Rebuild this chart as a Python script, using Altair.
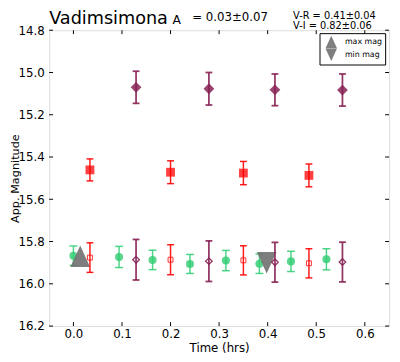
import altair as alt
import pandas as pd

W, H = 347, 302
FONT = "DejaVu Sans"

# ---- data ----
v_t = [0.000, 0.094, 0.163, 0.240, 0.314, 0.383, 0.448, 0.521]
v_m = [15.867, 15.873, 15.887, 15.906, 15.890, 15.905, 15.894, 15.884]
v_e = [0.046, 0.050, 0.046, 0.045, 0.048, 0.046, 0.048, 0.050]

rl_t = [0.034, 0.200, 0.350, 0.485]
rl_m = [15.876, 15.886, 15.889, 15.903]
rl_e = [0.070, 0.071, 0.069, 0.069]

il_t = [0.129, 0.279, 0.415, 0.554]
il_m = [15.886, 15.893, 15.898, 15.897]
il_e = [0.096, 0.096, 0.094, 0.094]

r_t = [0.034, 0.200, 0.350, 0.485]
r_m = [15.461, 15.472, 15.476, 15.487]
r_e = [0.052, 0.054, 0.055, 0.054]

i_t = [0.129, 0.279, 0.415, 0.554]
i_m = [15.070, 15.077, 15.082, 15.083]
i_e = [0.076, 0.077, 0.075, 0.076]

ext_kind = ["max mag", "min mag"]
ext_t = [0.014, 0.398]
ext_m = [15.870, 15.900]

x_ticks = [0.0, 0.1, 0.2, 0.3, 0.4, 0.5, 0.6]
y_ticks = [14.8, 15.0, 15.2, 15.4, 15.6, 15.8, 16.0, 16.2]

title_main = "Vadimsimona"
title_sup = "A"
title_val = "= 0.03\u00b10.07"
color_lines = ["V-R = 0.41\u00b10.04", "V-I  = 0.82\u00b10.06"]

GREEN = "#2ecc71"
RED = "#ff0000"
PURPLE = "#882255"
GRAY = "#707070"

xs = alt.Scale(domain=[-0.05, 0.65], nice=False, zero=False)
ys = alt.Scale(domain=[14.8, 16.2], reverse=True, nice=False, zero=False)

xaxis = alt.Axis(values=x_ticks, format=".1f", ticks=False, tickSize=0, domain=False,
                 grid=False, labelFontSize=12, labelFont=FONT, labelColor="black",
                 labelPadding=3, labelOverlap=False, labelFlush=False,
                 title="Time (hrs)", titleFont=FONT, titleFontSize=12,
                 titleFontWeight="normal", titleColor="black", titlePadding=3)
yaxis = alt.Axis(values=y_ticks, format=".1f", ticks=False, tickSize=0, domain=False,
                 grid=False, labelFontSize=12, labelFont=FONT, labelColor="black",
                 labelPadding=5, labelOverlap=False,
                 title="App. Magnitude", titleFont=FONT, titleFontSize=11.5,
                 titleFontWeight="normal", titleColor="black", titlePadding=-2.5)


def X(field):
    return alt.X(field, type="quantitative", scale=xs, axis=xaxis)


def Y(field):
    return alt.Y(field, type="quantitative", scale=ys, axis=yaxis)


def frame(t, m, e):
    return pd.DataFrame({"t": t, "m": m,
                         "lo": [a - b for a, b in zip(m, e)],
                         "hi": [a + b for a, b in zip(m, e)]})


def errbars(df, color, sw, cap, op):
    base = alt.Chart(df)
    bar = base.mark_rule(color=color, strokeWidth=sw, opacity=op).encode(
        x=X("t"), y=Y("lo"), y2="hi")
    c1 = base.mark_tick(orient="horizontal", color=color, size=cap, thickness=sw,
                        opacity=op).encode(x=X("t"), y=Y("lo"))
    c2 = base.mark_tick(orient="horizontal", color=color, size=cap, thickness=sw,
                        opacity=op).encode(x=X("t"), y=Y("hi"))
    return [bar, c1, c2]


layers = []

# green (V)
dv = frame(v_t, v_m, v_e)
layers += errbars(dv, GREEN, 1.5, 8, 0.85)
layers.append(alt.Chart(dv).mark_circle(size=68, color=GREEN, opacity=0.8)
              .encode(x=X("t"), y=Y("m")))

# extremes (triangles) with legend
de = pd.DataFrame({"kind": ext_kind, "t": ext_t, "m": ext_m})
layers.append(alt.Chart(de).mark_point(filled=True, size=400, color=GRAY, opacity=0.9,
                                       strokeWidth=0)
              .encode(x=X("t"), y=Y("m"),
                      shape=alt.Shape("kind:N",
                                      scale=alt.Scale(domain=ext_kind,
                                                      range=["M0,-1.1L-1,1.1L1,1.1Z",
                                                             "M0,1.1L-1,-1.1L1,-1.1Z"]),
                                      legend=alt.Legend(title=None, orient="none",
                                                        legendX=276, legendY=3,
                                                        strokeColor="black",
                                                        fillColor="white",
                                                        padding=3, symbolSize=137,
                                                        symbolFillColor=GRAY,
                                                        symbolStrokeWidth=0,
                                                        symbolOpacity=0.9,
                                                        labelFontSize=8, labelFont=FONT,
                                                        labelColor="black",
                                                        rowPadding=-1, symbolOffset=3,
                                                        labelOffset=8))))

# red, lower (open squares)
drl = frame(rl_t, rl_m, rl_e)
layers += errbars(drl, RED, 1.5, 7, 0.9)
layers.append(alt.Chart(drl).mark_point(shape="square", filled=False, size=25,
                                        color=RED, strokeWidth=1, opacity=0.8)
              .encode(x=X("t"), y=Y("m")))

# purple, lower (open diamonds)
dil = frame(il_t, il_m, il_e)
layers += errbars(dil, PURPLE, 1.8, 7, 0.9)
layers.append(alt.Chart(dil).mark_point(shape="diamond", filled=False, size=45,
                                        color=PURPLE, strokeWidth=1.3, opacity=0.9)
              .encode(x=X("t"), y=Y("m")))

# red, upper (filled squares)
dr = frame(r_t, r_m, r_e)
layers += errbars(dr, RED, 1.5, 7, 0.9)
layers.append(alt.Chart(dr).mark_point(shape="square", filled=True, size=81,
                                       color=RED, opacity=0.75, strokeWidth=0)
              .encode(x=X("t"), y=Y("m")))

# purple, upper (filled diamonds)
di = frame(i_t, i_m, i_e)
layers += errbars(di, PURPLE, 1.8, 7, 0.9)
layers.append(alt.Chart(di).mark_point(shape="diamond", filled=True, size=121,
                                       color=PURPLE, opacity=0.85, strokeWidth=0)
              .encode(x=X("t"), y=Y("m")))

# inward ticks (matplotlib style) on all four sides
dxt = pd.DataFrame({"v": x_ticks})
dyt = pd.DataFrame({"v": y_ticks})
layers.append(alt.Chart(dxt).mark_rule(color="black", strokeWidth=1)
              .encode(x=X("v"), y=alt.value(H), y2=alt.value(H - 4)))
layers.append(alt.Chart(dxt).mark_rule(color="black", strokeWidth=1)
              .encode(x=X("v"), y=alt.value(0), y2=alt.value(4)))
layers.append(alt.Chart(dyt).mark_rule(color="black", strokeWidth=1)
              .encode(y=Y("v"), x=alt.value(0), x2=alt.value(4)))
layers.append(alt.Chart(dyt).mark_rule(color="black", strokeWidth=1)
              .encode(y=Y("v"), x=alt.value(W), x2=alt.value(W - 4)))


# title texts
def label(txt, x, y, size, lh=None):
    kw = dict(align="left", baseline="alphabetic", font=FONT, fontSize=size,
              color="black")
    if lh is not None:
        kw.update(lineBreak="\n", lineHeight=lh)
    return alt.Chart(pd.DataFrame({"s": [txt]})).mark_text(**kw).encode(
        text="s:N", x=alt.value(x), y=alt.value(y))


layers.append(label(title_main, 0, -6, 18))
layers.append(label(title_sup, 126, -6.5, 12.6))
layers.append(label(title_val, 146, -9.5, 12))
layers.append(label("\n".join(color_lines), 249, -11.2, 10, lh=10))

chart = alt.layer(*layers).properties(
    width=W, height=H,
    autosize=alt.AutoSizeParams(type="none"),
    padding={"left": 42, "top": 19, "right": 3, "bottom": 33},
).configure_view(stroke="black", strokeWidth=1).configure(background="white")

chart.save("out.html", embed_options={"renderer": "svg", "actions": False})
